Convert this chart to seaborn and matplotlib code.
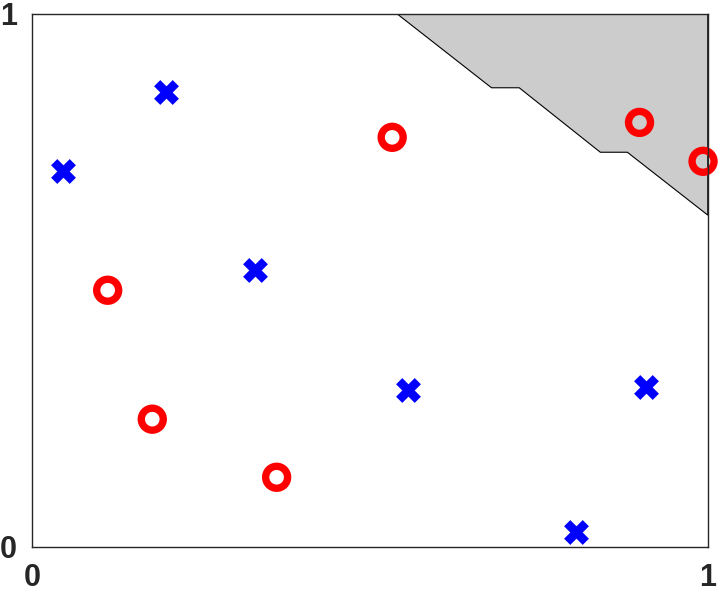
import matplotlib
matplotlib.use('Agg')
import matplotlib.pyplot as plt
import numpy as np
import pandas as pd
import seaborn as sb

# region boundary (shaded area, upper right)
regionX = [0.540, 0.680, 0.721, 0.841, 0.881, 1.0, 1.0]
regionY = [1.0, 0.861, 0.861, 0.740, 0.740, 0.622, 1.0]

# class o (red rings)
circleX = [0.533, 0.899, 0.993, 0.112, 0.178, 0.362]
circleY = [0.768, 0.796, 0.723, 0.481, 0.239, 0.130]

# class x (blue crosses)
crossX = [0.046, 0.198, 0.330, 0.556, 0.908, 0.805]
crossY = [0.704, 0.853, 0.519, 0.294, 0.299, 0.027]

tickValues = [0, 1]
tickLabels = ['0', '1']

sb.set_style('white')
plt.rcParams['font.family'] = ['Liberation Sans', 'DejaVu Sans']

fig = plt.figure(figsize=(7.22, 5.96), dpi=100)
ax = fig.add_axes([0.0443, 0.083, 0.936, 0.894])

ax.fill(regionX, regionY, facecolor='#cccccc', edgecolor='black', linewidth=0.8, zorder=1)

circles = pd.DataFrame({'x': circleX, 'y': circleY})
crosses = pd.DataFrame({'x': crossX, 'y': crossY})

sb.scatterplot(data=circles, x='x', y='y', ax=ax, marker='o', s=250,
               facecolors='none', edgecolor='#ff0000', linewidth=5.3, zorder=3, clip_on=False)
sb.scatterplot(data=crosses, x='x', y='y', ax=ax, marker='X', s=320,
               color='#0000ff', linewidth=0, zorder=3, clip_on=False)

ax.set_xlim(0, 1)
ax.set_ylim(0, 1)
ax.set_xticks(tickValues, tickLabels)
ax.set_yticks(tickValues, tickLabels)
ax.tick_params(length=0, labelsize=22)
ax.tick_params(axis='x', pad=12)
ax.tick_params(axis='y', pad=11)
for lbl in ax.get_xticklabels() + ax.get_yticklabels():
    lbl.set_fontweight('bold')
    lbl.set_color('#262626')
ax.set_xlabel('')
ax.set_ylabel('')
for sp in ax.spines.values():
    sp.set_color('#262626')
    sp.set_linewidth(1.0)
    sp.set_zorder(4)

fig.savefig('out.png', dpi=100)
